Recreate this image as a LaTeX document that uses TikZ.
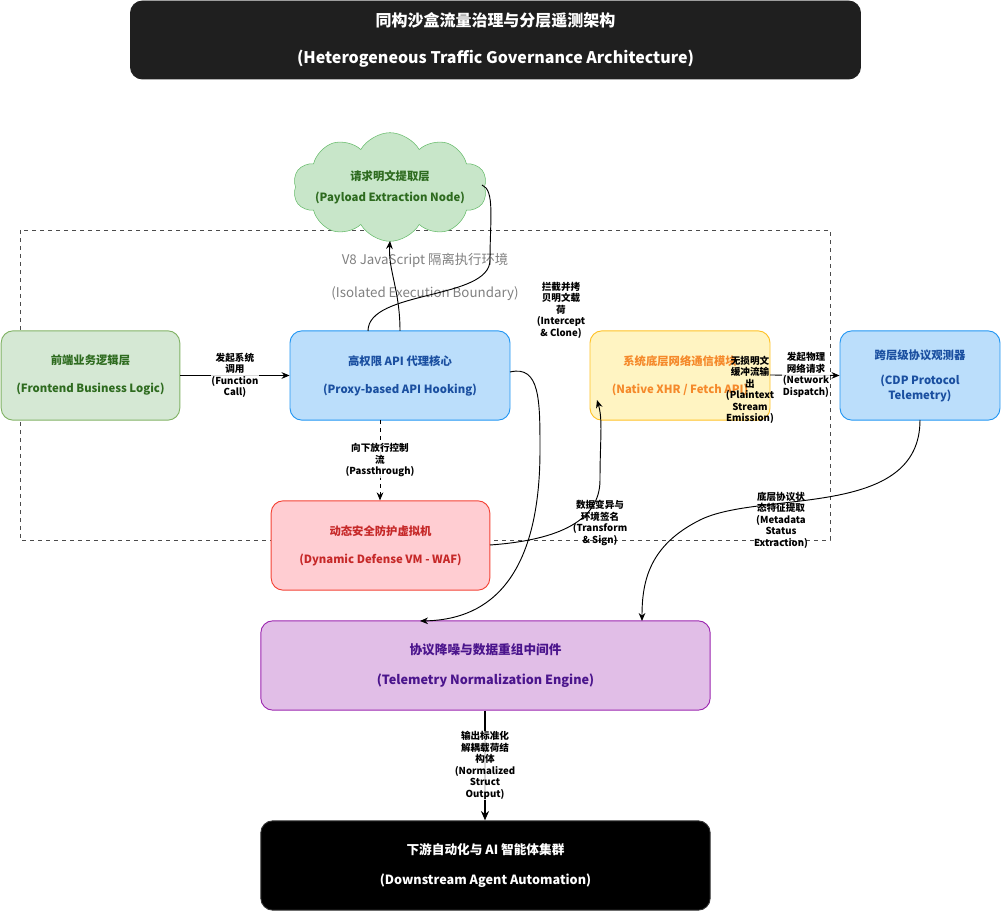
\documentclass[tikz,border=0pt]{standalone}
\usepackage{fontspec}
\setmainfont{Noto Sans CJK SC}
\usetikzlibrary{shapes.symbols,arrows.meta}
\definecolor{gfill}{HTML}{D5E8D4}\definecolor{gdraw}{HTML}{82B366}\definecolor{gtext}{HTML}{2E6B1F}
\definecolor{bfill}{HTML}{BBDEFB}\definecolor{bdraw}{HTML}{2196F3}\definecolor{btext}{HTML}{1A4FA0}
\definecolor{yfill}{HTML}{FFF4C2}\definecolor{ydraw}{HTML}{FFC125}\definecolor{ytext}{HTML}{F5892A}
\definecolor{rfill}{HTML}{FFCDD2}\definecolor{rdraw}{HTML}{F44336}\definecolor{rtext}{HTML}{C62828}
\definecolor{pfill}{HTML}{E1BEE7}\definecolor{pdraw}{HTML}{9C27B0}\definecolor{ptext}{HTML}{4A148C}
\definecolor{cfill}{HTML}{C8E6C9}\definecolor{cdraw}{HTML}{66BB6A}
\begin{document}
\begin{tikzpicture}[x=0.75pt,y=-0.75pt,
  box/.style={rounded corners=9pt,draw,line width=0.7pt,align=center,font=\bfseries\fontsize{8.5}{11}\selectfont,inner sep=0pt},
  lbl/.style={fill=white,fill opacity=0.85,text opacity=1,align=center,font=\bfseries\fontsize{7.2}{8.6}\selectfont,inner sep=0.5pt},
  arr/.style={-{Stealth[length=6pt,width=5pt]},line width=0.7pt}]
\useasboundingbox (0,0) rectangle (1001,912);
\node[box,fill=black!88,draw=black!88,text=white,minimum width=547.5pt,minimum height=58.5pt,font=\bfseries\fontsize{12}{14}\selectfont] (title) at (495.5,40) {同构沙盒流量治理与分层遥测架构\\[14pt](Heterogeneous Traffic Governance Architecture)};
\draw[dashed,black!70,line width=0.5pt] (20,230) rectangle (830,540);
\node[gray,font=\fontsize{10}{12}\selectfont] (b1) at (425,260) {V8 JavaScript 隔离执行环境};
\node[gray,font=\fontsize{10}{12}\selectfont] (b2) at (425,294) {(Isolated Execution Boundary)};
\node[cloud,cloud puffs=10,cloud puff arc=120,aspect=2.4,draw=cdraw,fill=cfill,minimum width=118pt,minimum height=54pt,align=center,text=gtext,font=\bfseries\fontsize{8.5}{12}\selectfont,inner sep=-6pt] (cloud) at (390,187) {请求明文提取层\\[4pt](Payload Extraction Node)};
\node[box,fill=gfill,draw=gdraw,text=gtext,minimum width=134pt,minimum height=67pt] (fe) at (90.5,375.5) {前端业务逻辑层\\[10pt](Frontend Business Logic)};
\node[box,fill=bfill,draw=bdraw,text=btext,minimum width=165pt,minimum height=67pt] (px) at (400,375.5) {高权限 API 代理核心\\[10pt](Proxy-based API Hooking)};
\node[box,fill=yfill,draw=ydraw,text=ytext,minimum width=135pt,minimum height=67pt] (nat) at (680,375.5) {系统底层网络通信模块\\[10pt](Native XHR / Fetch API)};
\node[box,fill=bfill,draw=bdraw,text=btext,minimum width=120pt,minimum height=67pt] (cdp) at (920,375.5) {跨层级协议观测器\\[8pt](CDP Protocol\\Telemetry)};
\node[box,fill=rfill,draw=rdraw,text=rtext,minimum width=164pt,minimum height=67pt] (waf) at (380.5,545.5) {动态安全防护虚拟机\\[10pt](Dynamic Defense VM - WAF)};
\node[box,fill=pfill,draw=pdraw,text=ptext,minimum width=337pt,minimum height=67pt,font=\bfseries\fontsize{9.5}{13}\selectfont] (tel) at (485.5,665.5) {协议降噪与数据重组中间件\\[10pt](Telemetry Normalization Engine)};
\node[box,fill=black,draw=black!80,text=white,minimum width=337pt,minimum height=67pt,font=\bfseries\fontsize{9.5}{13}\selectfont] (ds) at (485.5,865.5) {下游自动化与 AI 智能体集群\\[10pt](Downstream Agent Automation)};
% edges
\draw[arr] (fe.east) -- (px.west) node[lbl,midway] {发起系统\\调用\\(Function\\Call)};
\draw[arr] (400,331) .. controls (400,290) and (388,270) .. (390,241);
\coordinate (ce) at (482,185);
\draw[line width=0.7pt] (368,331) .. controls (368,290) and (490,300) .. (490,260) .. controls (490,220) and (495,190) .. (ce);
\draw[arr,dashed] (380,420) -- (waf.north -| 380,0) node[lbl,pos=0.5] {向下放行控制\\流\\(Passthrough)};
\draw[arr] (510,372) .. controls (540,365) and (540,400) .. (540,450) .. controls (540,600) and (470,620) .. (420,621);
\node[lbl] (l1) at (561,310) {拦截并拷\\贝明文载\\荷\\(Intercept\\\& Clone)};
\draw[arr] (490,545) .. controls (560,540) and (600,520) .. (600,480) .. controls (600,440) and (603,420) .. (597,400);
\node[lbl,fill opacity=0] (l2) at (600,523) {数据变异与\\环境签名\\(Transform\\\& Sign)};
\draw[arr] (770,375) -- (cdp.west);
\node[lbl,fill opacity=0] (l3) at (750,390) {无损明文\\缓冲流输\\出\\(Plaintext\\Stream\\Emission)};
\node[lbl] (l4) at (806,375) {发起物理\\网络请求\\(Network\\Dispatch)};
\draw[arr] (920,420) .. controls (920,520) and (760,490) .. (700,520) .. controls (650,545) and (642,580) .. (642,621);
\node[lbl,fill opacity=0] (l5) at (781,520) {底层协议状\\态特征提取\\(Metadata\\Status\\Extraction)};
\draw[-{Stealth[length=7pt,width=6pt]},line width=1.6pt] (tel.south -| 485,0) -- (ds.north -| 485,0) node[lbl,midway] {输出标准化\\解耦载荷结\\构体\\(Normalized\\Struct\\Output)};
\end{tikzpicture}
\end{document}
